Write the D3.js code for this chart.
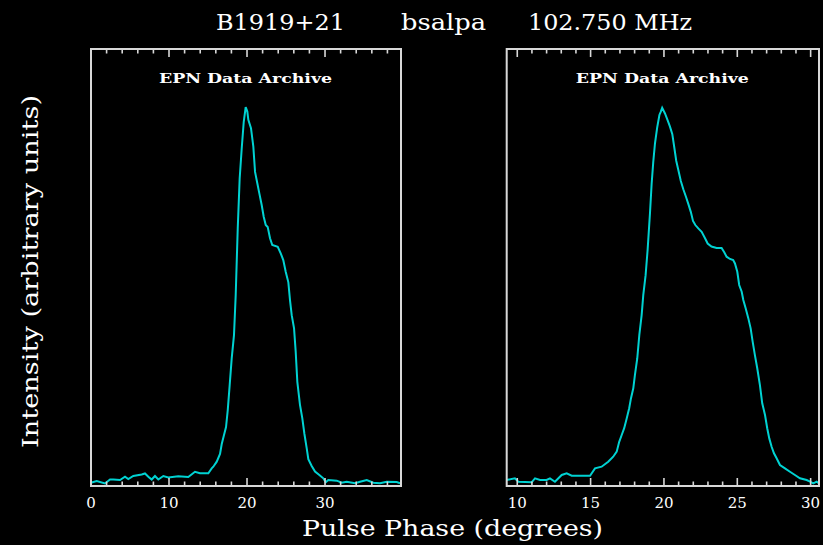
<!DOCTYPE html>
<html>
<head>
<meta charset="utf-8">
<script src="https://cdn.jsdelivr.net/npm/d3@7/dist/d3.min.js"></script>
<style>
html,body{margin:0;padding:0;background:#000;}
svg{display:block;}
</style>
</head>
<body>
<script>
// ---- Data (phase in degrees, intensity in arbitrary units) ----
const leftPhase = [0.09,0.73,1.79,2.44,2.86,3.72,4.36,4.78,5.42,6.5,6.92,7.35,7.78,8.2,8.63,9.27,9.91,11.19,12.47,13.33,13.97,15.04,15.47,15.68,16.12,16.54,16.76,17.05,17.31,17.53,17.78,18.04,18.33,18.55,18.81,19.06,19.32,19.58,19.83,20.04,20.17,20.51,20.81,21.03,21.32,21.58,21.88,22.14,22.4,22.65,22.95,23.24,23.94,24.32,24.65,24.96,25.3,25.51,25.73,26.03,26.24,26.45,26.79,27.09,27.35,27.65,27.86,28.29,28.72,29.27,29.78,30.09,30.42,31.5,32.14,32.78,33.85,34.49,35.35,36.19,37.05,37.91,39.19,39.62];
const leftIntensity = [0.40,0.80,0.13,1.19,1.19,1.06,1.94,1.33,2.12,2.52,2.79,1.94,1.19,2.12,1.19,2.12,1.72,2.04,1.86,3.24,2.84,2.84,4.16,4.59,5.92,7.96,10.6,13.0,15.1,19.6,26.3,33.4,39.5,50.1,67.8,81.1,89.0,96.1,100,98.8,96.6,94.4,89.5,82.8,79.8,77.1,74.0,70.9,68.7,68.2,65.2,63.4,62.9,61.2,59.4,56.3,53.5,48.8,44.8,41.3,35.1,27.1,21.0,17.4,13.4,9.5,6.6,4.8,3.3,2.4,1.5,0.45,1.06,0.88,0.34,0.61,0.19,0.61,1.06,0.34,0.19,0.61,0.53,0.19];

const rightPhase = [9.28,9.84,10.07,10.98,11.21,11.55,12.0,12.23,12.57,13.03,13.37,13.71,14.96,15.3,15.75,16.2,16.54,16.78,16.95,17.12,17.29,17.46,17.63,17.75,17.91,18.02,18.18,18.32,18.48,18.59,18.75,18.89,19.05,19.16,19.27,19.39,19.54,19.69,19.78,19.88,20.07,20.24,20.41,20.57,20.7,20.84,20.98,21.15,21.32,21.5,21.66,21.83,21.98,22.14,22.34,22.57,22.8,22.98,23.24,23.59,23.93,24.11,24.27,24.5,24.72,24.84,25.0,25.13,25.3,25.41,25.57,25.75,25.91,26.05,26.2,26.36,26.54,26.7,26.89,27.04,27.18,27.34,27.5,27.68,27.91,28.25,28.59,28.93,29.27,29.73,29.96,30.18,30.41,30.57];
const rightIntensity = [1.06,1.51,0.61,0.45,1.51,1.06,1.06,1.51,0.61,2.39,2.84,2.2,2.2,4.16,4.59,5.92,7.24,8.57,11.2,13.0,14.8,17.4,20.1,22.7,25.4,28.9,33.3,39.5,44.8,50.1,55.4,62.3,72.0,79.6,85.4,90.4,94.6,97.9,98.7,99.8,98.3,96.6,94.8,92.8,89.4,85.7,83.3,80.4,78.2,76.2,74.3,72.2,69.8,68.7,67.8,66.9,65.2,63.8,63.0,62.6,62.6,61.5,60.3,59.7,59.4,58.5,56.3,52.8,51.0,48.8,46.6,44.0,41.3,37.7,34.2,30.7,26.3,21.4,18.3,14.8,12.1,9.89,8.14,6.82,5.04,4.16,3.26,2.39,1.51,1.06,0.61,0.19,0.61,0.13];

const leftDomain = [0, 39.74];
const rightDomain = [9.28, 30.57];
const yDomain = [-0.53, 115.4];
const leftMajorTicks = [0, 10, 20, 30];
const leftMinorTicks = d3.range(0, 40, 2);
const rightMajorTicks = [10, 15, 20, 25, 30];
const rightMinorTicks = d3.range(10, 31, 1);

const titleParts = ["B1919+21", "bsalpa", "102.750 MHz"];
const archiveLabel = "EPN Data Archive";
const xTitle = "Pulse Phase (degrees)";
const yTitle = "Intensity (arbitrary units)";

// ---- Layout ----
const W = 823, H = 545;
const plotTop = 49, plotBottom = 486;
const frameColor = "#d8d8d8";
const lineColor = "#00d2d2";
const fontMain = "'DejaVu Serif', 'Liberation Serif', serif";

const svg = d3.select("body").append("svg").attr("width", W).attr("height", H);
svg.append("rect").attr("width", W).attr("height", H).attr("fill", "#000");

const yScale = d3.scaleLinear().domain(yDomain).range([plotBottom, plotTop]);

function panel(id, x0, x1, domain, phase, inten, major, minor, minorLen, majorLen) {
  const x = d3.scaleLinear().domain(domain).range([x0, x1]);
  const g = svg.append("g");
  g.append("clipPath").attr("id", id).append("rect")
    .attr("x", x0).attr("y", plotTop).attr("width", x1 - x0).attr("height", plotBottom - plotTop);

  const pts = phase.map((p, i) => [p, inten[i]]);
  g.append("path").datum(pts)
    .attr("clip-path", `url(#${id})`)
    .attr("fill", "none").attr("stroke", lineColor).attr("stroke-width", 2)
    .attr("d", d3.line().x(d => x(d[0])).y(d => yScale(d[1])));

  // ticks (inward, on bottom and top edges)
  const tickData = minor.filter(v => !major.includes(v)).map(v => ({v, len: minorLen}))
    .concat(major.map(v => ({v, len: majorLen})));
  const tg = g.append("g").attr("stroke", frameColor).attr("stroke-width", 1.6);
  tg.selectAll("line.b").data(tickData).join("line").attr("class", "b")
    .attr("x1", d => x(d.v)).attr("x2", d => x(d.v))
    .attr("y1", plotBottom).attr("y2", d => plotBottom - d.len);
  tg.selectAll("line.t").data(tickData).join("line").attr("class", "t")
    .attr("x1", d => x(d.v)).attr("x2", d => x(d.v))
    .attr("y1", plotTop).attr("y2", d => plotTop + d.len);

  g.selectAll("text.tl").data(major).join("text").attr("class", "tl")
    .attr("x", d => x(d)).attr("y", 508)
    .attr("text-anchor", "middle").attr("fill", "#fff")
    .attr("font-family", fontMain).attr("font-size", 15)
    .text(d => d);

  g.append("rect").attr("x", x0).attr("y", plotTop).attr("width", x1 - x0).attr("height", plotBottom - plotTop)
    .attr("fill", "none").attr("stroke", frameColor).attr("stroke-width", 2);

  g.append("text").attr("x", (x0 + x1) / 2 - 0.5).attr("y", 83)
    .attr("text-anchor", "middle").attr("fill", "#fff")
    .attr("font-family", fontMain).attr("font-weight", "bold").attr("font-size", 13)
    .attr("textLength", 173).attr("lengthAdjust", "spacingAndGlyphs")
    .text(archiveLabel);
}

panel("clipL", 91, 401, leftDomain, leftPhase, leftIntensity, leftMajorTicks, leftMinorTicks, 4.5, 8);
panel("clipR", 506.7, 819, rightDomain, rightPhase, rightIntensity, rightMajorTicks, rightMinorTicks, 4.5, 8);

// Title
const titleX = [[216, 129], [401, 85], [528, 164]];
titleParts.forEach((t, i) => {
  svg.append("text").attr("x", titleX[i][0]).attr("y", 30)
    .attr("fill", "#fff").attr("font-family", fontMain).attr("font-size", 22)
    .attr("textLength", titleX[i][1]).attr("lengthAdjust", "spacingAndGlyphs")
    .text(t);
});

// Axis titles
svg.append("text").attr("x", 302).attr("y", 536)
  .attr("fill", "#fff").attr("font-family", fontMain).attr("font-size", 22)
  .attr("textLength", 301).attr("lengthAdjust", "spacingAndGlyphs")
  .text(xTitle);

svg.append("text").attr("transform", "translate(38,448) rotate(-90)")
  .attr("fill", "#fff").attr("font-family", fontMain).attr("font-size", 22)
  .attr("textLength", 353).attr("lengthAdjust", "spacingAndGlyphs")
  .text(yTitle);
</script>
</body>
</html>
